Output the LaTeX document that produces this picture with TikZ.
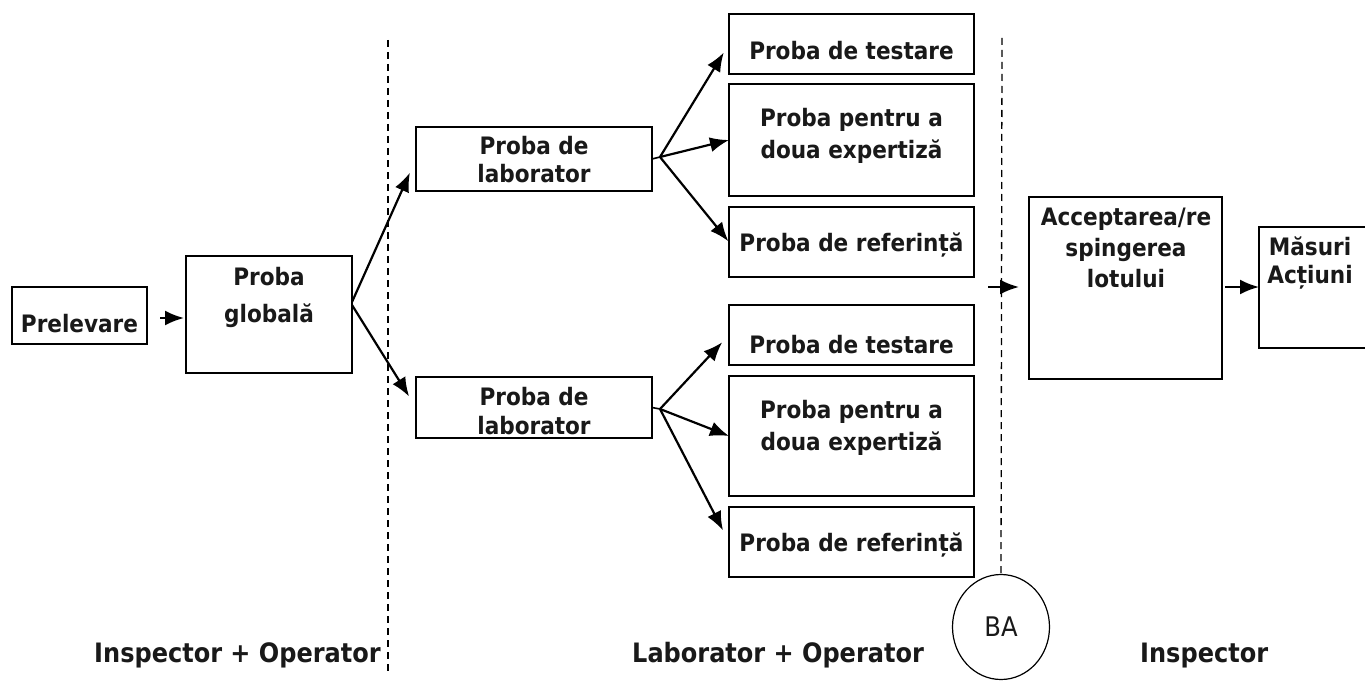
\documentclass[tikz,border=0pt]{standalone}
\usepackage{fontspec}
\setmainfont{DejaVu Sans Condensed}
\usetikzlibrary{arrows.meta,shapes.geometric}
\tikzset{
  box/.style={draw, line width=1.6pt, inner sep=0pt, outer sep=0pt},
  txt/.style={font=\bfseries\fontsize{24}{30}\selectfont, align=center, inner sep=0pt, anchor=base, text=black!90},
  lbl/.style={font=\bfseries\fontsize{26.7}{30}\selectfont, inner sep=0pt, text=black!90},
  arr/.style={line width=2.2pt, -{Latex[length=19pt,width=15pt]}},
  sep/.style={line width=1.3pt, dash pattern=on 7pt off 5pt}
}
\begin{document}
\begin{tikzpicture}[x=1pt,y=-1pt]
\clip (0,0) rectangle (1365,682);
\fill[white] (0,0) rectangle (1365,682);
% separators
\draw[sep] (388,40) -- (388,672);
% boxes
\node[box, minimum width=135pt, minimum height=57pt] (prel) at (79.5,315.5) {};
\node[box, minimum width=166pt, minimum height=117pt] (glob) at (269,314.5) {};
\node[box, minimum width=236pt, minimum height=64pt] (lab1) at (534,159) {};
\node[box, minimum width=236pt, minimum height=61pt] (lab2) at (534,407.5) {};
\node[box, minimum width=245pt, minimum height=60pt] (t1) at (851.5,44) {};
\node[box, minimum width=245pt, minimum height=112pt] (p1) at (851.5,140) {};
\node[box, minimum width=245pt, minimum height=70pt] (r1) at (851.5,242) {};
\node[box, minimum width=245pt, minimum height=60pt] (t2) at (851.5,335) {};
\node[box, minimum width=245pt, minimum height=120pt] (p2) at (851.5,436) {};
\node[box, minimum width=245pt, minimum height=70pt] (r2) at (851.5,542) {};
\node[box, minimum width=193pt, minimum height=182pt] (acc) at (1125.5,288) {};
\node[box, minimum width=121pt, minimum height=121pt] (mas) at (1319.5,287.5) {};
\node[draw, ellipse, line width=1.2pt, minimum width=97pt, minimum height=105pt, inner sep=0pt, font=\fontsize{27}{30}\selectfont, text=black!90] (ba) at (1001,627) {BA};
\draw[sep] (1002,38) -- (ba.north);
% texts (base = baseline of last line)
\node[txt] (tprel) at (79.5,332) {Prelevare};
\node[txt, font=\bfseries\fontsize{24}{37}\selectfont] (tglob) at (269,322) {Proba\\globală};
\node[txt, font=\bfseries\fontsize{24}{28}\selectfont] (tlab1) at (534,182) {Proba de\\laborator};
\node[txt, font=\bfseries\fontsize{24}{29}\selectfont] (tlab2) at (534,434) {Proba de\\laborator};
\node[txt] (tt1) at (851.5,60) {Proba de testare};
\node[txt, font=\bfseries\fontsize{24}{32}\selectfont] (tp1) at (851.5,158) {Proba pentru a\\doua expertiză};
\node[txt] (tr1) at (851.5,251) {Proba de referință};
\node[txt] (tt2) at (851.5,353) {Proba de testare};
\node[txt, font=\bfseries\fontsize{24}{32}\selectfont] (tp2) at (851.5,450) {Proba pentru a\\doua expertiză};
\node[txt] (tr2) at (851.5,551) {Proba de referință};
\node[txt, font=\bfseries\fontsize{24}{31}\selectfont] (tacc) at (1126,287) {Acceptarea/re\\spingerea\\lotului};
\node[txt, font=\bfseries\fontsize{24}{28}\selectfont] (tmas) at (1310,283) {Măsuri\\Acțiuni};
% bottom labels
\node[lbl, anchor=base east] (l1) at (381,662) {Inspector + Operator};
\node[lbl, anchor=base west] (l2) at (632,662) {Laborator + Operator};
\node[lbl, anchor=base west] (l3) at (1140,662) {Inspector};
% connectors
\coordinate (g1) at (352,302);
\coordinate (g2) at (352,305);
\coordinate (f1) at (660,157);
\coordinate (f2) at (660,409);
\coordinate (ain) at (988,287);
\draw[arr, shorten <=13pt, shorten >=2pt] (prel.east |- 0,318) -- (glob.west |- 0,318);
\draw[arr, shorten >=15pt] (g1) -- (lab1.west);
\draw[arr, shorten >=13pt] (g2) -- (lab2.west);
\draw[arr, shorten >=10pt] (f1) -- (t1.west);
\draw[arr] (f1) -- (p1.west);
\draw[arr, shorten >=1pt] (f1) -- (r1.west);
\draw[arr, shorten >=10pt] (f2) -- (t2.west);
\draw[arr] (f2) -- (p2.west);
\draw[arr, shorten >=13pt] (f2) -- (r2.west);
\draw[line width=1.6pt] (lab1.east) -- (f1);
\draw[line width=1.6pt] (lab2.east) -- (f2);
\draw[arr, shorten >=10pt] (ain) -- (acc.west |- ain);
\draw[arr, shorten <=3pt] (acc.east |- 0,287) -- (mas.west |- 0,287);
\end{tikzpicture}
\end{document}
